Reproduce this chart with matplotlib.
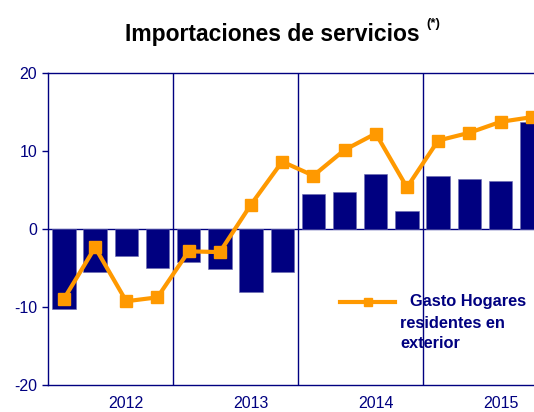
import numpy as np
import matplotlib
matplotlib.use("Agg")
import matplotlib.pyplot as plt

plt.rcParams['font.family'] = ['Liberation Sans', 'DejaVu Sans']
plt.rcParams['axes.unicode_minus'] = False

years = ['2012', '2013', '2014', '2015']
# quarterly values, 2012Q1 .. 2015Q4
importaciones = [-10.3, -5.6, -3.5, -5.0, -4.3, -5.2, -8.1, -5.5,
                 4.4, 4.7, 7.0, 2.3, 6.8, 6.4, 6.1, 13.7]
gasto_hogares = [-9.0, -2.4, -9.3, -8.8, -2.9, -3.0, 3.1, 8.6,
                 6.8, 10.1, 12.2, 5.3, 11.3, 12.3, 13.7, 14.3]

navy = '#000080'
orange = '#FF9900'

fig = plt.figure(figsize=(5.34, 4.12), dpi=100)
ax = fig.add_axes([48.3 / 534, 27.3 / 412, 499 / 534, 312 / 412])

x = np.arange(len(importaciones))
ax.bar(x, importaciones, width=0.75, color=navy, edgecolor='#6a6ab0', linewidth=0.4, zorder=2)
ax.plot(x, gasto_hogares, color=orange, lw=3, marker='s', ms=8, zorder=3)

ax.axhline(0, color=navy, lw=1, zorder=1)
for b in [3.5, 7.5, 11.5]:
    ax.axvline(b, color=navy, lw=1, zorder=1)

ax.set_xlim(-0.5, 15.5)
ax.set_ylim(-20, 20)
ax.set_yticks([-20, -10, 0, 10, 20])
ax.set_xticks([2, 6, 10, 14])
ax.set_xticklabels(years)
ax.tick_params(axis='x', length=0, pad=8, labelsize=11.5, labelcolor=navy)
ax.tick_params(axis='y', length=4, width=1, color=navy, pad=4, labelsize=11.5, labelcolor=navy)
for s in ['left', 'top', 'bottom']:
    ax.spines[s].set_color(navy)
    ax.spines[s].set_linewidth(1)
ax.spines['right'].set_visible(False)

# legend
ax.plot([0.585, 0.695], [0.266, 0.266], color=orange, lw=3, transform=ax.transAxes, clip_on=False)
ax.plot([0.64], [0.266], color=orange, marker='s', ms=6, transform=ax.transAxes, clip_on=False)
ax.text(0.725, 0.266, 'Gasto Hogares', transform=ax.transAxes, color=navy,
        fontsize=11.8, fontweight='bold', va='center')
ax.text(0.705, 0.197, 'residentes en', transform=ax.transAxes, color=navy,
        fontsize=11.8, fontweight='bold', va='center')
ax.text(0.705, 0.131, 'exterior', transform=ax.transAxes, color=navy,
        fontsize=11.8, fontweight='bold', va='center')

fig.text(272 / 534, 1 - 34 / 412, 'Importaciones de servicios', ha='center', va='center',
         fontsize=16.5, fontweight='bold', color='black')
fig.text(426 / 534, 1 - 24 / 412, '(*)', ha='left', va='center',
         fontsize=9.5, fontweight='bold', color='black')

fig.savefig('out.png', dpi=100)
